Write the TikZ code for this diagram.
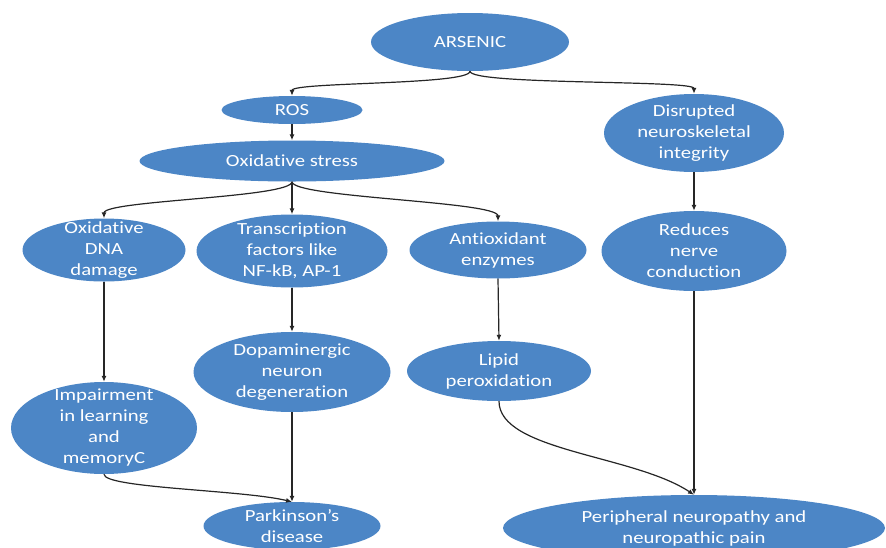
\documentclass[tikz,border=0pt]{standalone}
\usepackage{fontspec}
\setmainfont{Carlito}[FakeStretch=1.22,Ligatures=NoCommon]
\usepackage{xcolor}
\usepackage{tikz}
\usetikzlibrary{arrows.meta,shapes.geometric}
\definecolor{ellblue}{RGB}{76,134,198}

\begin{document}
\begin{tikzpicture}[x=1pt,y=-1pt,
  blob/.style={ellipse,fill=ellblue,text=white,align=center,inner xsep=0pt,inner ysep=-8pt,
               font=\fontsize{17}{21}\selectfont},
  arr/.style={-{Latex[length=6pt,width=5pt]},line width=1.2pt,black!85}]
  \useasboundingbox (0,0) rectangle (886,547);
  \node[blob,minimum width=198,minimum height=58] (A)  at (470,42)  {ARSENIC};
  \node[blob,minimum width=141,minimum height=28] (R)  at (292,110) {ROS};
  \node[blob,minimum width=305,minimum height=41] (OS) at (292,161) {Oxidative stress};
  \node[blob,minimum width=180,minimum height=78] (DN) at (694,133) {Disrupted\\neuroskeletal\\integrity};
  \node[blob,minimum width=163,minimum height=63] (OD) at (104,250) {Oxidative\\DNA\\damage};
  \node[blob,minimum width=191,minimum height=73] (TF) at (292,251) {Transcription\\factors like\\NF-kB, AP-1};
  \node[blob,minimum width=177,minimum height=57] (AE) at (498,250) {Antioxidant\\enzymes};
  \node[blob,minimum width=185,minimum height=80] (RN) at (694,251) {Reduces\\nerve\\conduction};
  \node[blob,minimum width=197,minimum height=80] (DP) at (292,372) {Dopaminergic\\neuron\\degeneration};
  \node[blob,minimum width=184,minimum height=60] (LP) at (499,371) {Lipid\\peroxidation};
  \node[blob,minimum width=186,minimum height=92] (IM) at (104,428) {Impairment\\in learning\\and\\memoryC};
  \node[blob,minimum width=177,minimum height=48] (PD) at (292,526) {Parkinson’s\\disease};
  \node[blob,minimum width=382,minimum height=66] (PN) at (694,528) {Peripheral neuropathy and\\neuropathic pain};

  \draw[arr] (A.south) .. controls +(0,14) and +(0,-14) .. (R.north);
  \draw[arr] (A.south) .. controls +(0,14) and +(0,-14) .. (DN.north);
  \draw[arr] (R.south) -- (OS.north);
  \draw[arr] (OS.south) .. controls +(0,16) and +(0,-18) .. (OD.north);
  \draw[arr] (OS.south) -- (TF.north);
  \draw[arr] (OS.south) .. controls +(0,16) and +(0,-20) .. (AE.north);
  \draw[arr] (DN.south) -- (RN.north);
  \draw[arr] (OD.south) -- (IM.north);
  \draw[arr] (TF.south) -- (DP.north);
  \draw[arr] (AE.south) -- (LP.north);
  \draw[arr] (IM.south) .. controls +(0,14) and +(-50,-12) .. (PD.north);
  \draw[arr] (DP.south) -- (PD.north);
  \draw[arr] (LP.south) .. controls +(0,50) and +(-60,-40) .. (PN.north);
  \draw[arr] (RN.south) -- (PN.north);
\end{tikzpicture}
\end{document}
